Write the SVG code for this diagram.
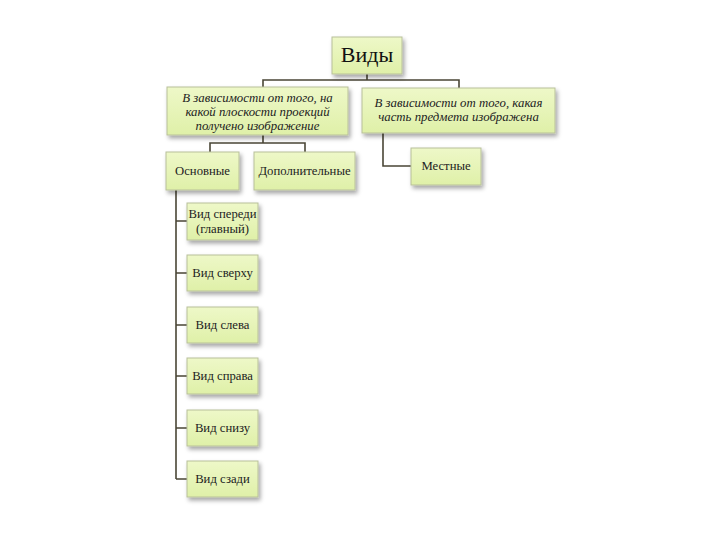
<svg xmlns="http://www.w3.org/2000/svg" width="720" height="540" viewBox="0 0 720 540">
<defs>
<linearGradient id="g" x1="0" y1="0" x2="0" y2="1">
<stop offset="0" stop-color="#eef8c8"/>
<stop offset="1" stop-color="#dff0a8"/>
</linearGradient>
<filter id="sh" x="-20%" y="-20%" width="140%" height="150%">
<feDropShadow dx="2" dy="3" stdDeviation="2" flood-color="#000" flood-opacity="0.35"/>
</filter>
</defs>
<style>
.box{fill:url(#g);stroke:#b8c09a;stroke-width:1;filter:url(#sh)}
.t{font-family:"Liberation Serif","Times New Roman",serif;font-size:12.7px;fill:#222;text-anchor:middle}
.i{font-style:italic;font-size:12.8px}
.big{font-size:22px;fill:#111}
.c{fill:none;stroke:#4a4636;stroke-width:1.6}
</style>
<rect width="720" height="540" fill="#fff"/>
<g id="connectors">
<path class="c" d="M367 74V80M263 87V80H459V88"/>
<path class="c" d="M263 135V143M210 152V143H305V152"/>
<path class="c" d="M383 133V166H411"/>
<path class="c" d="M176 190V479M176 221H187M176 273H187M176 325H187M176 376H187M176 428H187M176 479H187"/>
</g>
<g id="n-vidy"><rect class="box" x="332" y="37" width="70" height="37"/><text class="t big" x="367" y="62">Виды</text></g>
<g id="n-plane"><rect class="box" x="167" y="87" width="181" height="48"/>
<text class="t i" x="257.5" y="102">В зависимости от того, на</text>
<text class="t i" x="257.5" y="116">какой плоскости проекций</text>
<text class="t i" x="257.5" y="130">получено изображение</text></g>
<g id="n-part"><rect class="box" x="362" y="88" width="193" height="45"/>
<text class="t i" x="458.5" y="107">В зависимости от того, какая</text>
<text class="t i" x="458.5" y="121">часть предмета изображена</text></g>
<g id="n-osn"><rect class="box" x="166" y="152" width="73" height="38"/><text class="t" x="202.5" y="175">Основные</text></g>
<g id="n-dop"><rect class="box" x="254" y="152" width="101" height="38"/><text class="t" x="304.5" y="175">Дополнительные</text></g>
<g id="n-mest"><rect class="box" x="411" y="148" width="70" height="37"/><text class="t" x="446" y="170">Местные</text></g>
<g id="n-front"><rect class="box" x="187" y="203" width="71" height="37"/><text class="t" x="222.5" y="218">Вид спереди</text><text class="t" x="222.5" y="233">(главный)</text></g>
<g id="n-top"><rect class="box" x="187" y="255" width="71" height="36"/><text class="t" x="222.5" y="277">Вид сверху</text></g>
<g id="n-left"><rect class="box" x="187" y="307" width="71" height="36"/><text class="t" x="222.5" y="329">Вид слева</text></g>
<g id="n-right"><rect class="box" x="187" y="358" width="71" height="36"/><text class="t" x="222.5" y="380">Вид справа</text></g>
<g id="n-bottom"><rect class="box" x="187" y="410" width="71" height="36"/><text class="t" x="222.5" y="432">Вид снизу</text></g>
<g id="n-back"><rect class="box" x="187" y="461" width="71" height="36"/><text class="t" x="222.5" y="483">Вид сзади</text></g>
</svg>
